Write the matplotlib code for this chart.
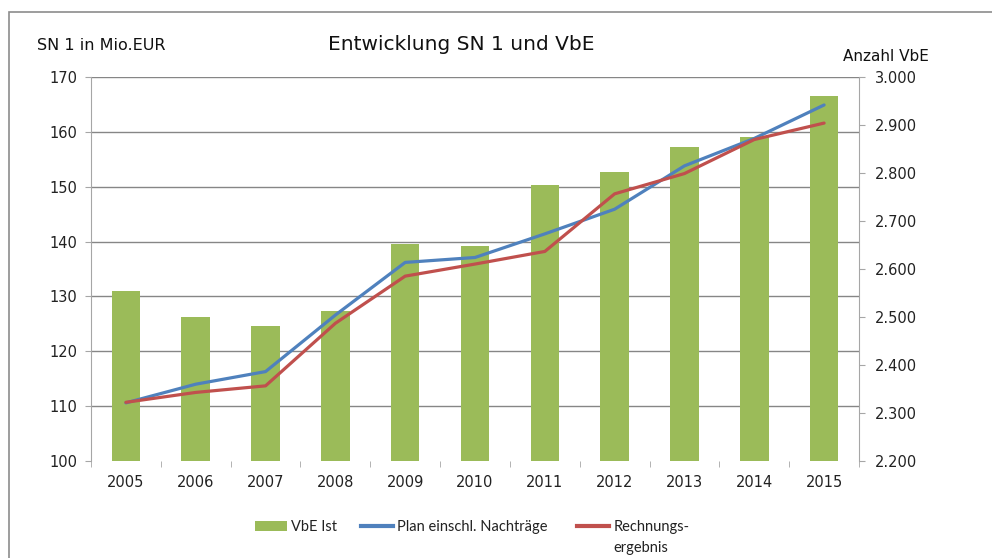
import matplotlib
matplotlib.use("Agg")
import matplotlib.pyplot as plt
from matplotlib import font_manager
from matplotlib.patches import Rectangle, Patch
from matplotlib.lines import Line2D
from matplotlib.ticker import FuncFormatter, FixedLocator

plt.rcParams['font.family'] = ['DejaVu Sans']

years = ['2005', '2006', '2007', '2008', '2009', '2010', '2011', '2012', '2013', '2014', '2015']
vbe_ist = [2554, 2500, 2481, 2512, 2652, 2648, 2775, 2802, 2854, 2875, 2960]
plan = [110.6, 114.0, 116.3, 126.6, 136.2, 137.1, 141.4, 145.9, 153.8, 158.8, 164.9]
rechnung = [110.7, 112.5, 113.7, 125.1, 133.7, 135.9, 138.2, 148.7, 152.4, 158.6, 161.6]

green = '#9BBB59'
blue = '#4F81BD'
red = '#C0504D'
grid_col = '#868686'
spine_col = '#A6A6A6'
txt = '#222222'

# narrower face for the legend if there is one
names = set(f.name for f in font_manager.fontManager.ttflist)
if 'Lato' in names:
    leg_font, leg_size = 'Lato', 10.5
else:
    leg_font, leg_size = 'DejaVu Sans', 9.5

fig = plt.figure(figsize=(9.92, 5.58), dpi=100)

# outer frame (cut off at right and bottom like the screenshot)
fig.patches.append(Rectangle((9 / 992, -0.05), 1.1, 1 - 12 / 558 + 0.05,
                             transform=fig.transFigure, fill=False,
                             edgecolor='#8c8c8c', linewidth=1.2))

ax = fig.add_axes([91 / 992, 97 / 558, 768 / 992, 384 / 558])
x = list(range(len(years)))

# left axis: grid + ticks
ax.set_ylim(100, 170)
ax.set_yticks(range(100, 171, 10))
ax.set_xlim(-0.5, len(years) - 0.5)
ax.yaxis.grid(True, color=grid_col, linewidth=1)
ax.yaxis.get_gridlines()[0].set_visible(False)
ax.set_axisbelow(True)
ax.set_xticks(x)
ax.set_xticklabels(years)
ax.xaxis.set_minor_locator(FixedLocator([i + 0.5 for i in range(-1, len(years))]))
ax.tick_params(axis='x', which='major', length=0, pad=10, labelsize=10.5, colors=txt)
ax.tick_params(axis='x', which='minor', length=4.3, color=spine_col)
ax.tick_params(axis='y', length=4.3, color=spine_col, labelsize=10.5, labelcolor=txt, pad=5.5)
for s in ['top', 'right', 'bottom']:
    ax.spines[s].set_visible(False)
ax.spines['left'].set_color(spine_col)

# right axis: bars
ax2 = ax.twinx()
ax2.bar(x, vbe_ist, width=0.41, color=green, zorder=2)
ax2.set_ylim(2200, 3000)
ax2.set_yticks(range(2200, 3001, 100))
ax2.yaxis.set_major_formatter(FuncFormatter(lambda v, p: '{:,.0f}'.format(v).replace(',', '.')))
ax2.tick_params(axis='y', length=4.3, color=spine_col, labelsize=10.5, labelcolor=txt, pad=7.2)
for s in ['top', 'left', 'bottom']:
    ax2.spines[s].set_visible(False)
ax2.spines['right'].set_color(spine_col)

# lines on top, same scale as left axis
ax3 = ax.twinx()
ax3.set_ylim(100, 170)
ax3.plot(x, plan, color=blue, linewidth=2.3, solid_capstyle='round')
ax3.plot(x, rechnung, color=red, linewidth=2.3, solid_capstyle='round')
ax3.set_yticks([])
for s in ax3.spines.values():
    s.set_visible(False)

fig.text(37 / 992, 1 - 45 / 558, 'SN 1 in Mio.EUR', fontsize=11.5, va='center', ha='left', color='#111111')
fig.text(461 / 992, 1 - 45 / 558, 'Entwicklung SN 1 und VbE', fontsize=14.5, va='center', ha='center', color='#111111')
fig.text(886 / 992, 1 - 56 / 558, 'Anzahl VbE', fontsize=11, va='center', ha='center', color='#111111')

# legend, one entry each so positions follow the reference
leg_items = [(Patch(facecolor=green, edgecolor='none'), 'VbE Ist', 255),
             (Line2D([0], [0], color=blue, linewidth=3), 'Plan einschl. Nachträge', 361),
             (Line2D([0], [0], color=red, linewidth=3), 'Rechnungs-', 577)]
for h, lab, xpos in leg_items:
    fig.legend([h], [lab], loc='center left', bbox_to_anchor=(xpos / 992, 1 - 527 / 558),
               frameon=False, prop={'family': leg_font, 'size': leg_size},
               handlelength=32 / (leg_size * 100 / 72), handletextpad=0.3,
               borderpad=0, borderaxespad=0, labelcolor=txt)
fig.text(613 / 992, 1 - 548 / 558, 'ergebnis', family=leg_font, fontsize=leg_size,
         va='center', ha='left', color=txt)

fig.savefig('out.png', dpi=100)
